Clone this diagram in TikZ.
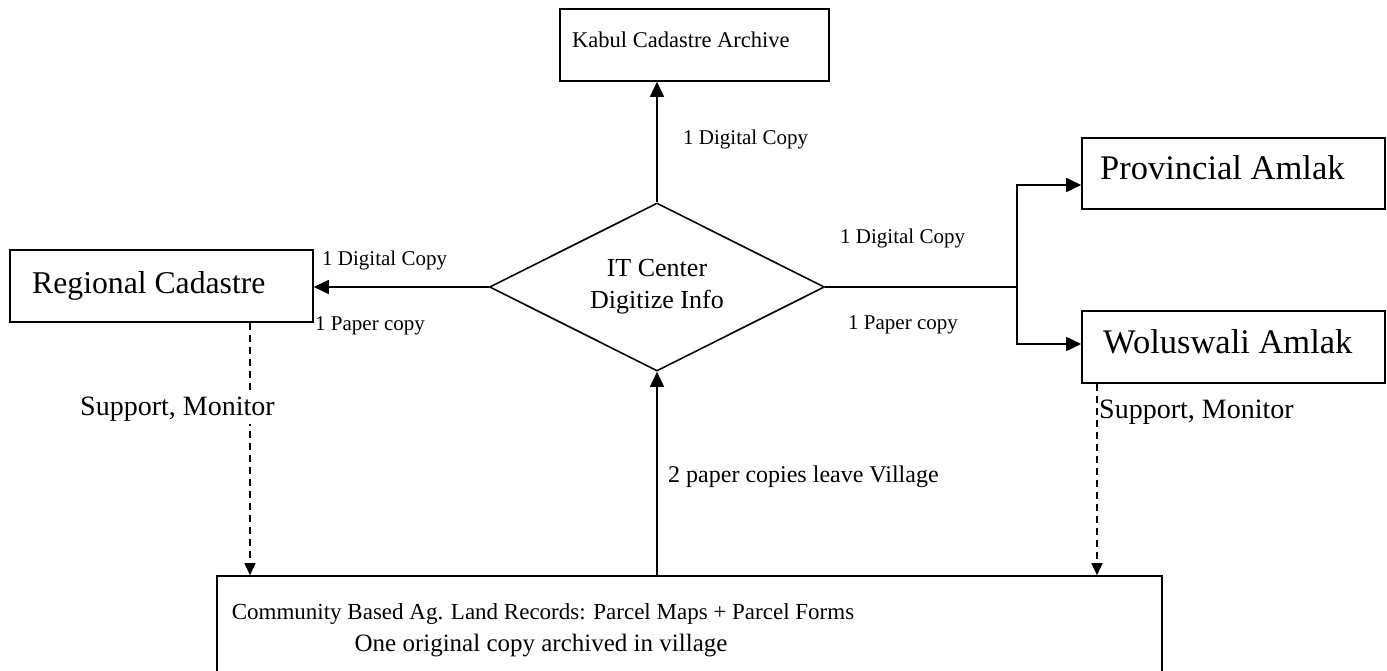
\documentclass[tikz,border=0pt]{standalone}
\usepackage{fontspec}
\setmainfont{Liberation Serif}
\usetikzlibrary{arrows.meta,shapes.geometric,calc}

\begin{document}
\begin{tikzpicture}[x=1pt,y=-1pt,
  box/.style={draw, line width=1.6pt, inner sep=0pt},
  lbl/.style={inner sep=0pt, anchor=base west},
  wire/.style={line width=1.6pt},
  arr/.style={wire, -{Triangle[length=15pt,width=14pt]}},
  dsh/.style={line width=1.4pt, dash pattern=on 7pt off 5pt, -{Triangle[length=12pt,width=11pt]}},
  small/.style={font=\fontsize{21}{25}\selectfont},
  side/.style={font=\fontsize{28}{32}\selectfont}]
\useasboundingbox (0,0) rectangle (1387,670);

% boxes
\node[box, minimum width=269pt, minimum height=72pt] (kabul) at (694.5,45) {};
\node[box, minimum width=303pt, minimum height=71pt] (prov) at (1233.5,173.5) {};
\node[box, minimum width=303pt, minimum height=72pt] (wolu) at (1233.5,347) {};
\node[box, minimum width=303pt, minimum height=72pt] (reg) at (161.5,286) {};
\node[box, minimum width=945pt, minimum height=120pt] (rec) at (689.5,636) {};

% central diamond
\node[draw, diamond, aspect=2, line width=1.6pt, minimum width=335pt, minimum height=168pt,
      inner sep=0pt, align=center, font=\fontsize{26}{32}\selectfont] (dia) at (657,287)
      {IT Center\\Digitize Info};

% box texts
\node[lbl, font=\fontsize{22.5}{27}\selectfont] (tkabul) at (572,47) {Kabul Cadastre Archive};
\node[lbl, font=\fontsize{34.5}{40}\selectfont] (tprov) at (1100,179) {Provincial Amlak};
\node[lbl, font=\fontsize{34.5}{40}\selectfont] (twolu) at (1103,353) {Woluswali Amlak};
\node[lbl, font=\fontsize{31.7}{36}\selectfont] (treg) at (32,293) {Regional Cadastre};
\node[inner sep=0pt, anchor=base, font=\fontsize{23}{28}\selectfont] (trec1) at (543,619)
  {Community Based Ag. Land Records: Parcel Maps + Parcel Forms};
\node[inner sep=0pt, anchor=base, font=\fontsize{25}{30}\selectfont] (trec2) at (541,651)
  {One original copy archived in village};

% connectors
\draw[arr] (dia.north) -- (dia.north |- kabul.south);
\draw[arr] (dia.west) -- (dia.west -| reg.east);
\coordinate (split) at (1017,287);
\coordinate (ptop) at (1017,185);
\coordinate (pbot) at (1017,344);
\draw[wire] (dia.east) -- (split);
\draw[arr] (split) -- (ptop) -- (ptop -| prov.west);
\draw[arr] (split) -- (pbot) -- (pbot -| wolu.west);
\draw[arr] (rec.north -| dia.south) -- (dia.south);

\coordinate (lx) at (250,0);
\coordinate (rx) at (1097,0);
\draw[dsh] (reg.south -| lx) -- (rec.north -| lx);
\draw[dsh] (wolu.south -| rx) -- (rec.north -| rx);

% connector labels
\node[lbl, small] (l1) at (683,144) {1 Digital Copy};
\node[lbl, small] (l2) at (840,243) {1 Digital Copy};
\node[lbl, small] (l3) at (848,329) {1 Paper copy};
\node[lbl, small] (l4) at (322,265) {1 Digital Copy};
\node[lbl, small] (l5) at (315,330) {1 Paper copy};
\node[lbl, font=\fontsize{24}{28}\selectfont] (l6) at (668,482) {2 paper copies leave Village};
\node[lbl, side, fill=white, inner ysep=3pt] (l7) at (80,415) {Support, Monitor};
\node[lbl, side] (l8) at (1099,418) {Support, Monitor};
\end{tikzpicture}
\end{document}
